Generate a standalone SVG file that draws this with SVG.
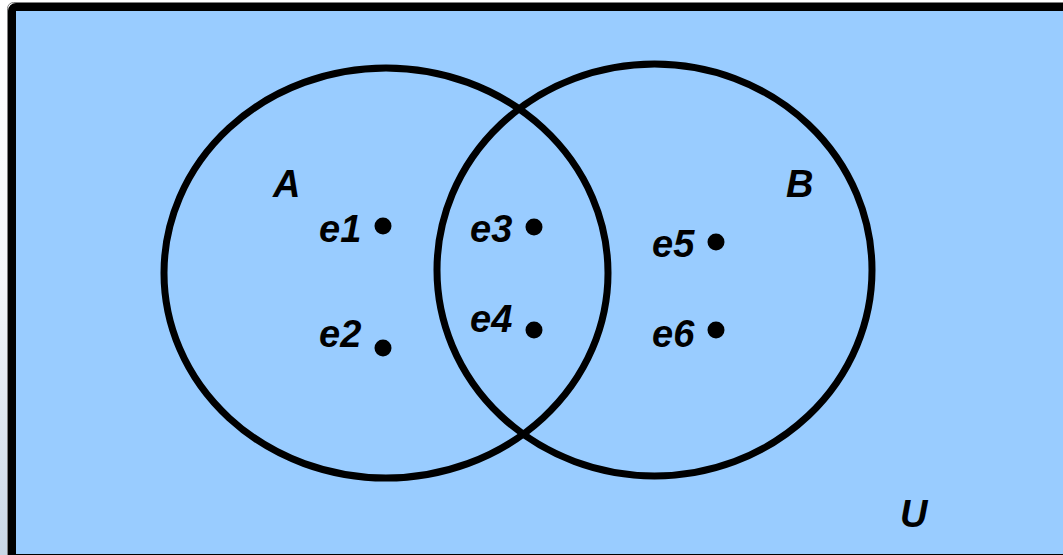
<svg xmlns="http://www.w3.org/2000/svg" width="1063" height="555" viewBox="0 0 1063 555">
  <defs>
    <linearGradient id="strip" x1="0" y1="0" x2="0" y2="1">
      <stop offset="0" stop-color="#ffffff"/>
      <stop offset="0.5" stop-color="#f4f6f9"/>
      <stop offset="1" stop-color="#c9d7e6"/>
    </linearGradient>
    <style>
      .set { fill: none; stroke: #000; stroke-width: 7; }
      .lbl { font-family: "Liberation Sans", Arial, sans-serif; font-weight: bold; font-style: italic; font-size: 38px; fill: #000; }
      .dot { fill: #000; }
    </style>
  </defs>
  <rect x="0" y="0" width="1063" height="555" fill="#ffffff"/>
  <rect x="0" y="0" width="9" height="555" fill="url(#strip)"/>
  <g id="universe">
    <rect x="7.5" y="2.5" width="1070" height="560" rx="6" fill="none" stroke="#808080" stroke-width="1"/>
    <rect x="12" y="7" width="1065" height="551" rx="4" fill="#99ccff" stroke="#000" stroke-width="8"/>
    <text class="lbl" x="900" y="527">U</text>
  </g>
  <g id="setA">
    <ellipse class="set" cx="386" cy="273" rx="222" ry="205"/>
    <text class="lbl" x="273" y="197">A</text>
  </g>
  <g id="setB">
    <ellipse class="set" cx="654.5" cy="270" rx="217.5" ry="206"/>
    <text class="lbl" x="786" y="197">B</text>
  </g>
  <g id="e1"><text class="lbl" x="319" y="242">e1</text><circle class="dot" cx="383" cy="226" r="8.5"/></g>
  <g id="e2"><text class="lbl" x="319" y="347">e2</text><circle class="dot" cx="383" cy="348" r="8.5"/></g>
  <g id="e3"><text class="lbl" x="470" y="242">e3</text><circle class="dot" cx="534" cy="227" r="8.5"/></g>
  <g id="e4"><text class="lbl" x="470" y="332">e4</text><circle class="dot" cx="534" cy="330" r="8.5"/></g>
  <g id="e5"><text class="lbl" x="652" y="257">e5</text><circle class="dot" cx="716" cy="242" r="8.5"/></g>
  <g id="e6"><text class="lbl" x="652" y="347">e6</text><circle class="dot" cx="716" cy="330" r="8.5"/></g>
  <g id="connectors"/>
</svg>
